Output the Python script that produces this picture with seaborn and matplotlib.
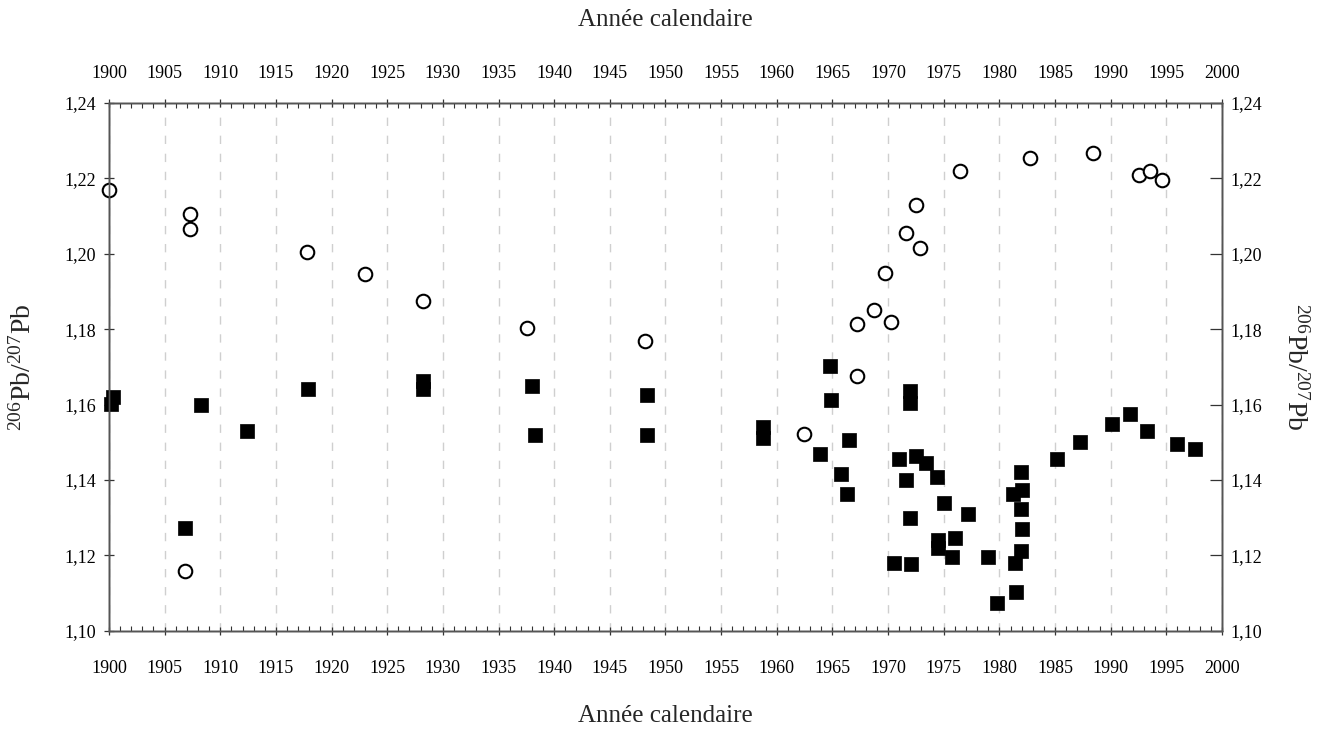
import matplotlib
matplotlib.use("Agg")
import matplotlib.pyplot as plt
from matplotlib.ticker import MultipleLocator, FuncFormatter
import numpy as np
import pandas as pd
import seaborn as sns

# Filled squares: calendar year and 206Pb/207Pb ratio
square_year = [1900.2, 1900.4, 1906.8, 1908.3, 1912.4, 1917.9, 1928.2, 1928.2,
               1938.0, 1938.3, 1948.3, 1948.3, 1958.8, 1958.8, 1963.9, 1964.8,
               1964.9, 1965.8, 1966.3, 1966.5, 1970.5, 1971.0, 1971.6, 1972.0,
               1972.0, 1972.0, 1972.1, 1972.5, 1973.4, 1974.4, 1974.5, 1974.5,
               1975.0, 1975.7, 1976.0, 1977.2, 1979.0, 1979.8, 1981.2, 1981.4,
               1981.5, 1981.9, 1981.9, 1981.9, 1982.0, 1982.05, 1985.2, 1987.2,
               1990.1, 1991.7, 1993.3, 1996.0, 1997.6]
square_ratio = [1.1602, 1.1620, 1.1272, 1.1598, 1.1531, 1.1641, 1.1640, 1.1662,
                1.1650, 1.1520, 1.1625, 1.1520, 1.1540, 1.1512, 1.1469, 1.1702,
                1.1612, 1.1415, 1.1364, 1.1506, 1.1180, 1.1455, 1.1400, 1.1637,
                1.1604, 1.1300, 1.1176, 1.1463, 1.1444, 1.1409, 1.1242, 1.1220,
                1.1338, 1.1196, 1.1247, 1.1309, 1.1196, 1.1075, 1.1363, 1.1180,
                1.1103, 1.1421, 1.1322, 1.1212, 1.1373, 1.1270, 1.1455, 1.1502,
                1.1549, 1.1575, 1.1531, 1.1495, 1.1481]

# Open circles: calendar year and 206Pb/207Pb ratio
circle_year = [1900.0, 1906.8, 1907.3, 1907.3, 1917.8, 1923.0, 1928.2, 1937.6,
               1948.2, 1962.4, 1967.2, 1967.2, 1968.7, 1969.7, 1970.3, 1971.6,
               1972.5, 1972.9, 1976.5, 1982.75, 1988.4, 1992.5, 1993.5, 1994.6]
circle_ratio = [1.2170, 1.1160, 1.2105, 1.2065, 1.2005, 1.1945, 1.1875, 1.1802,
                1.1768, 1.1522, 1.1677, 1.1814, 1.1851, 1.1950, 1.1820, 1.2055,
                1.2130, 1.2016, 1.2220, 1.2253, 1.2268, 1.2208, 1.2220, 1.2195]

x_ticks = list(range(1900, 2001, 5))
y_ticks = [1.10, 1.12, 1.14, 1.16, 1.18, 1.20, 1.22, 1.24]
x_label = "Année calendaire"
y_label = r"$^{206}$Pb/$^{207}$Pb"

sns.set_style("white")
plt.rcParams["font.family"] = ["Liberation Serif", "DejaVu Serif"]
plt.rcParams["mathtext.fontset"] = "custom"
plt.rcParams["mathtext.rm"] = "Liberation Serif"
plt.rcParams["mathtext.it"] = "Liberation Serif:italic"
plt.rcParams["mathtext.bf"] = "Liberation Serif:bold"

squares = pd.DataFrame({"year": square_year, "ratio": square_ratio})
circles = pd.DataFrame({"year": circle_year, "ratio": circle_ratio})

fig = plt.figure(figsize=(13.29, 7.51), dpi=100)
ax = fig.add_axes([0.082, 0.16, 0.8375, 0.703])

ax.set_axisbelow(True)
ax.grid(axis="x", which="major", linestyle=(0, (6, 7)), color="#cfcfcf", lw=1.0)
ax.grid(axis="y", visible=False)

sns.scatterplot(data=squares, x="year", y="ratio", marker="s", s=100,
                color="black", edgecolor="black", linewidth=0.5, ax=ax,
                zorder=3, clip_on=False)
sns.scatterplot(data=circles, x="year", y="ratio", marker="o", s=95,
                facecolor="white", edgecolor="black", linewidth=1.5, ax=ax,
                zorder=3, clip_on=False)

ax.set_xlim(1900, 2000)
ax.set_ylim(1.10, 1.24)

comma = FuncFormatter(lambda v, p: f"{v:.2f}".replace(".", ","))

ax.set_xticks(x_ticks)
ax.xaxis.set_minor_locator(MultipleLocator(1))
ax.set_yticks(y_ticks)
ax.yaxis.set_major_formatter(comma)
ax.tick_params(axis="x", which="major", direction="inout", length=6, width=0.9,
               labelsize=13, pad=18, colors="#333333", labelcolor="black",
               top=False)
ax.tick_params(axis="x", which="minor", direction="in", length=3.5, width=0.8,
               colors="#333333", top=False)
ax.tick_params(axis="y", which="major", direction="inout", length=7, width=0.9,
               labelsize=13, pad=6, colors="#333333", labelcolor="black")
ax.set_xlabel(x_label, fontsize=18, labelpad=20)
ax.set_ylabel(y_label, fontsize=20, labelpad=20)

for side in ["left", "right", "top", "bottom"]:
    ax.spines[side].set_color("#555555")
    ax.spines[side].set_linewidth(1.0)

# Upper calendar axis
top = ax.twiny()
top.set_xlim(ax.get_xlim())
top.set_xticks(x_ticks)
top.xaxis.set_minor_locator(MultipleLocator(1))
top.tick_params(axis="x", which="major", direction="inout", length=6, width=0.9,
                labelsize=13, pad=12, colors="#333333", labelcolor="black")
top.tick_params(axis="x", which="minor", direction="in", length=3.5, width=0.8,
                colors="#333333")
top.set_xlabel(x_label, fontsize=18, labelpad=28)

# Right ratio axis
right = ax.twinx()
right.set_ylim(ax.get_ylim())
right.set_yticks(y_ticks)
right.yaxis.set_major_formatter(comma)
right.tick_params(axis="y", which="major", direction="in", length=9, width=0.9,
                  labelsize=13, pad=6, colors="#333333", labelcolor="black")
right.set_ylabel(y_label, fontsize=20, rotation=270, labelpad=33)
for a in (top, right):
    for side in ["left", "right", "top", "bottom"]:
        a.spines[side].set_color("#555555")
        a.spines[side].set_linewidth(1.0)
    a.grid(False)

fig.savefig("out.png", dpi=100)
